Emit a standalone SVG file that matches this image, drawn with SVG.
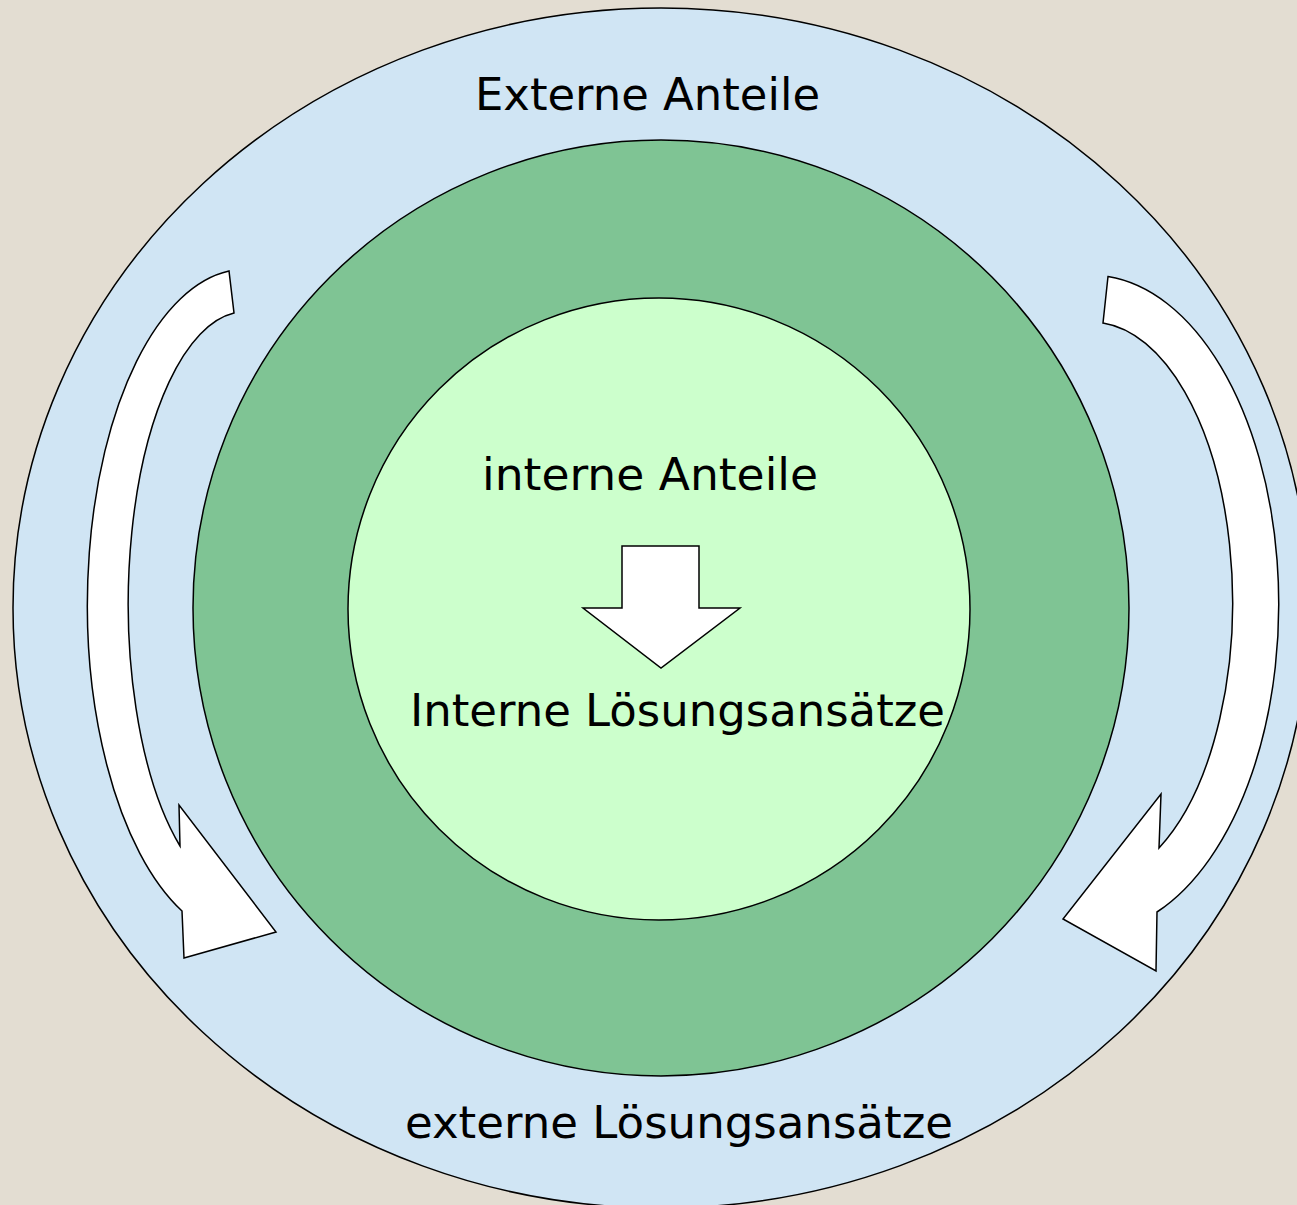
<svg xmlns="http://www.w3.org/2000/svg" width="1297" height="1205" viewBox="0 0 1297 1205">
<style>
.ln{stroke:#000;stroke-width:1.5;stroke-linejoin:miter}
.t{font-family:"DejaVu Sans","Liberation Sans",sans-serif;font-size:45px;fill:#000}
</style>
<rect x="0" y="0" width="1297" height="1205" fill="#E3DDD2"/>
<g id="extern">
<ellipse class="ln" cx="661" cy="608" rx="648" ry="600" fill="#D0E5F4"/>
<text class="t" x="475" y="110" textLength="345" lengthAdjust="spacingAndGlyphs">Externe Anteile</text>
<text class="t" x="405" y="1138" textLength="548" lengthAdjust="spacingAndGlyphs">externe Lösungsansätze</text>
</g>
<g id="ring">
<circle class="ln" cx="661" cy="608" r="468" fill="#7FC494"/>
</g>
<g id="intern">
<circle class="ln" cx="659" cy="609" r="311" fill="#CCFFCC"/>
<text class="t" x="482" y="490" textLength="336" lengthAdjust="spacingAndGlyphs">interne Anteile</text>
<text class="t" x="410" y="726" textLength="535" lengthAdjust="spacingAndGlyphs">Interne Lösungsansätze</text>
</g>
<g id="connectors">
<path class="ln" fill="#fff" d="M622,546 L699,546 L699,608 L740,608 L661,668 L583,608 L622,608 Z"/>
<path class="ln" fill="#fff" d="M229,271 A158 335 0 0 0 182,911 L184,958 L276,932 L179,805 L180,846 A117 292 0 0 1 234,313 Z"/>
<path class="ln" fill="#fff" d="M1108,276.5 A188 329 0 0 1 1157,912 L1156,971 L1063,919 L1161,794 L1159,848 A141 280 0 0 0 1103,323 Z"/>
</g>
</svg>
